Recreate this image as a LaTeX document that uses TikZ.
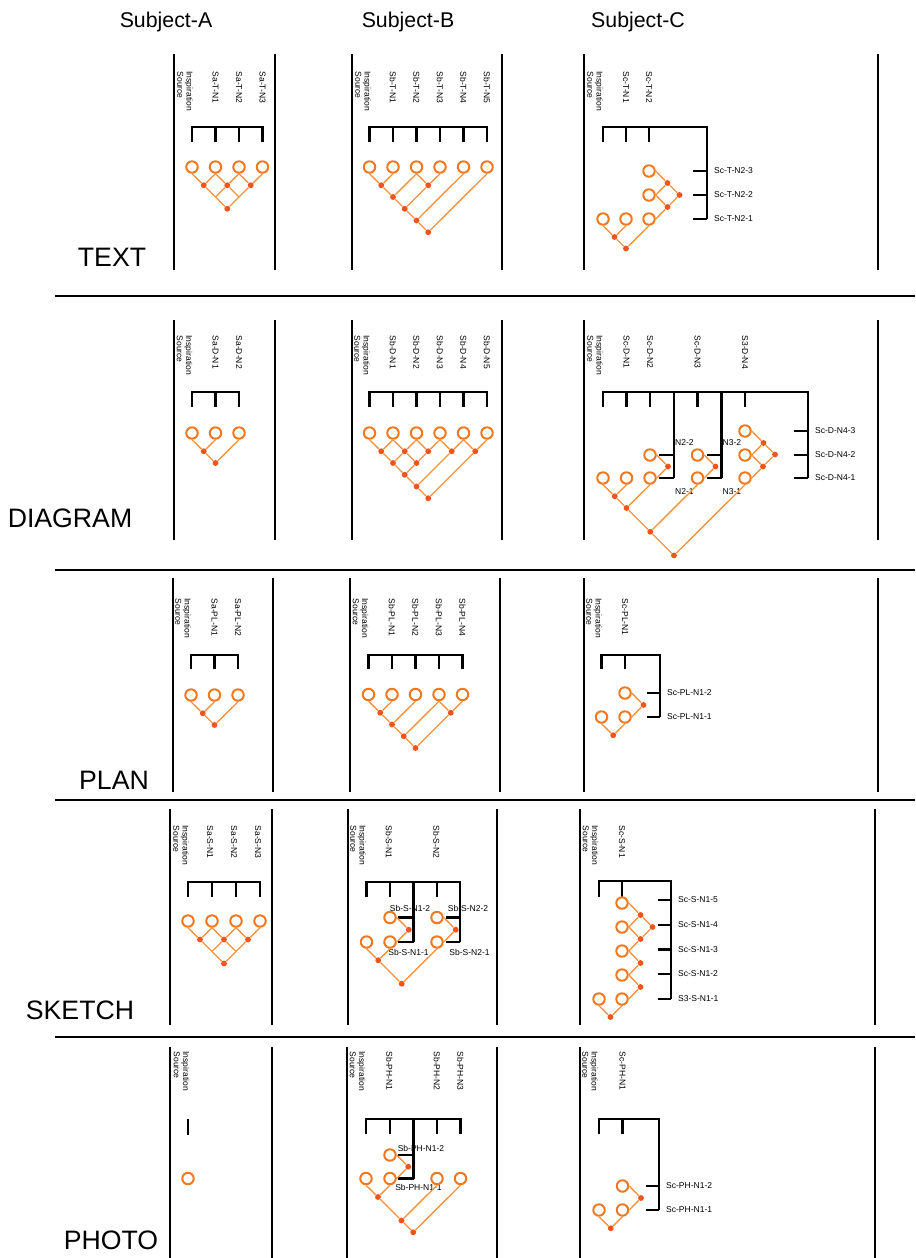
\documentclass[tikz,border=0pt]{standalone}
\usepackage{fontspec}
\setmainfont{Liberation Sans}
\definecolor{ringorange}{RGB}{243,121,32}
\definecolor{twigorange}{RGB}{246,146,62}
\definecolor{dotred}{RGB}{241,84,28}

\begin{document}
\begin{tikzpicture}[
    x=0.75pt, y=-0.75pt,
    ring/.style={circle, draw=ringorange, fill=white, line width=1.5pt, minimum size=8.6pt, inner sep=0pt},
    jdot/.style={circle, fill=dotred, minimum size=4.4pt, inner sep=0pt},
    twig/.style={draw=twigorange, line width=1pt},
    combline/.style={draw, line width=1.7pt},
    sepline/.style={draw, line width=1.5pt},
    lbl/.style={font=\fontsize{6.4}{7}\selectfont, inner sep=1pt},
    vtag/.style={lbl, rotate=-90, anchor=west, align=left},
    rtag/.style={lbl, anchor=west},
    headtext/.style={font=\fontsize{16}{19}\selectfont},
    rowname/.style={font=\fontsize{20}{24}\selectfont}
]
\useasboundingbox (0,0) rectangle (915,1258);

% ---------- Headers and row names ----------
\node[headtext] (hdA) at (166,22) {Subject-A};
\node[headtext] (hdB) at (408,22) {Subject-B};
\node[headtext] (hdC) at (638,22) {Subject-C};

\node[rowname] (rnT) at (112,257) {TEXT};
\node[rowname] (rnD) at (70,518) {DIAGRAM};
\node[rowname] (rnPL) at (114,780) {PLAN};
\node[rowname] (rnS) at (80,1010) {SKETCH};
\node[rowname] (rnPH) at (111,1240) {PHOTO};

% ---------- Grid ----------
\foreach \y in {296,570,800,1037} \draw[sepline] (55,\y) -- (915,\y);
\foreach \x/\ya/\yb in {174/54/270, 275/54/270, 352/54/270, 502/54/270, 584/54/270, 878/54/270,
                        174/320/540, 275/320/540, 352/320/540, 502/320/540, 584/320/540, 878/320/540,
                        173/578/792, 273/578/792, 350/578/792, 500/578/792, 584/578/792, 878/578/792,
                        170/809/1025, 272/809/1025, 348/809/1025, 497/809/1025, 580/809/1025, 875/809/1025,
                        170/1047/1258, 272/1047/1258, 347/1047/1258, 497/1047/1258, 580/1047/1258, 875/1047/1258}
    \draw[sepline] (\x,\ya) -- (\x,\yb);

% ========== TEXT ==========
% Subject-A
\node[vtag] (tAl0) at (185,70) {Inspiration\\Source};
\foreach \x/\t [count=\i] in {215.5/Sa-T-N1, 239/Sa-T-N2, 262.5/Sa-T-N3} \node[vtag] (tAl\i) at (\x,70) {\t};
\draw[combline] (192,142) -- (192,127) -- (262.5,127) -- (262.5,142);
\foreach \x in {215.5,239} \draw[combline] (\x,127) -- (\x,142);
\foreach \x [count=\i from 0] in {192,215.5,239,262.5} \node[ring] (tA\i) at (\x,167) {};
\node[jdot] (tAd01) at (203.75,185.25) {};
\node[jdot] (tAd12) at (227.25,185.25) {};
\node[jdot] (tAd23) at (250.75,185.25) {};
\node[jdot] (tAr) at (227.25,208.75) {};
\coordinate (tAm1) at (215.5,197);
\coordinate (tAm2) at (239,197);
\draw[twig] (tA0.south) -- (tAd01) -- (tAr) -- (tAd23) -- (tA3.south);
\draw[twig] (tA1.south) -- (tAd01);
\draw[twig] (tA1.south) -- (tAd12) -- (tA2.south) -- (tAd23);
\draw[twig] (tAm1) -- (tAd12) -- (tAm2);

% Subject-B
\node[vtag] (tBl0) at (363,70) {Inspiration\\Source};
\foreach \x/\t [count=\i] in {393/Sb-T-N1, 416.5/Sb-T-N2, 440/Sb-T-N3, 463.5/Sb-T-N4, 487/Sb-T-N5} \node[vtag] (tBl\i) at (\x,70) {\t};
\draw[combline] (369.5,142) -- (369.5,127) -- (487,127) -- (487,142);
\foreach \x in {393,416.5,440,463.5} \draw[combline] (\x,127) -- (\x,142);
\foreach \x [count=\i from 0] in {369.5,393,416.5,440,463.5,487} \node[ring] (tB\i) at (\x,167) {};
\node[jdot] (tBd01) at (381.25,185.25) {};
\node[jdot] (tBp1) at (393,197) {};
\node[jdot] (tBd23) at (428.25,185.25) {};
\node[jdot] (tBp2) at (404.75,208.75) {};
\node[jdot] (tBp3) at (416.5,220.5) {};
\node[jdot] (tBp4) at (428.25,232.25) {};
\draw[twig] (tB0.south) -- (tBd01) -- (tBp1) -- (tBp2) -- (tBp3) -- (tBp4) -- (tB5.south);
\draw[twig] (tB1.south) -- (tBd01);
\draw[twig] (tB2.south) -- (tBp1);
\draw[twig] (tB2.south) -- (tBd23) -- (tB3.south);
\draw[twig] (tBd23) -- (tBp2);
\draw[twig] (tB4.south) -- (tBp3);

% Subject-C
\node[vtag] (tCl0) at (595,70) {Inspiration\\Source};
\node[vtag] (tCl1) at (626,70) {Sc-T-N1};
\node[vtag] (tCl2) at (649,70) {Sc-T-N2};
\draw[combline] (603,142) -- (603,127) -- (707,127) -- (707,219);
\foreach \x in {626,649} \draw[combline] (\x,127) -- (\x,142);
\foreach \y/\t in {171/Sc-T-N2-3, 195/Sc-T-N2-2, 219/Sc-T-N2-1} {
    \draw[combline] (693,\y) -- (707,\y);
    \node[rtag] at (712.5,\y) {\t};
}
\node[ring] (tC0) at (603,219) {};
\node[ring] (tC1) at (626,219) {};
\node[ring] (tC2) at (649,219) {};
\node[ring] (tC3) at (649,195) {};
\node[ring] (tC4) at (649,171) {};
\node[jdot] (tCd01) at (614.5,237) {};
\node[jdot] (tCs1) at (667.5,183) {};
\node[jdot] (tCs2) at (667.5,207) {};
\node[jdot] (tCj) at (679.5,195) {};
\node[jdot] (tCr) at (626,248.5) {};
\draw[twig] (tC0.south) -- (tCd01) -- (tCr) -- (tC2.south);
\draw[twig] (tC1.south) -- (tCd01);
\draw[twig] (tC2.east) -- (tCs2) -- (tCj) -- (tCs1) -- (tC4.east);
\draw[twig] (tCs2) -- (tC3.east) -- (tCs1);

% ========== DIAGRAM ==========
% Subject-A
\node[vtag] (dAl0) at (184.5,334) {Inspiration\\Source};
\node[vtag] (dAl1) at (215.5,334) {Sa-D-N1};
\node[vtag] (dAl2) at (239,334) {Sa-D-N2};
\draw[combline] (192,407) -- (192,392) -- (239,392) -- (239,407);
\draw[combline] (215.5,392) -- (215.5,407);
\foreach \x [count=\i from 0] in {192,215.5,239} \node[ring] (dA\i) at (\x,433) {};
\node[jdot] (dAd01) at (203.75,451.25) {};
\node[jdot] (dAr) at (215.5,463) {};
\draw[twig] (dA0.south) -- (dAd01) -- (dAr) -- (dA2.south);
\draw[twig] (dA1.south) -- (dAd01);

% Subject-B
\node[vtag] (dBl0) at (362,334) {Inspiration\\Source};
\foreach \x/\t [count=\i] in {393/Sb-D-N1, 416.5/Sb-D-N2, 440/Sb-D-N3, 463.5/Sb-D-N4, 487/Sb-D-N5} \node[vtag] (dBl\i) at (\x,334) {\t};
\draw[combline] (369.5,407) -- (369.5,392) -- (487,392) -- (487,407);
\foreach \x in {393,416.5,440,463.5} \draw[combline] (\x,392) -- (\x,407);
\foreach \x [count=\i from 0] in {369.5,393,416.5,440,463.5,487} \node[ring] (dB\i) at (\x,433) {};
\foreach \x [count=\i from 0] in {381.25,404.75,428.25,451.75,475.25} \node[jdot] (dBd\i) at (\x,451.25) {};
\node[jdot] (dBe1) at (393,463) {};
\node[jdot] (dBe2) at (416.5,463) {};
\node[jdot] (dBf) at (404.75,474.75) {};
\node[jdot] (dBg) at (416.5,486.5) {};
\node[jdot] (dBh) at (428.25,498.25) {};
\draw[twig] (dB0.south) -- (dBd0) -- (dBe1) -- (dBf) -- (dBg) -- (dBh) -- (dBd4) -- (dB5.south);
\draw[twig] (dB1.south) -- (dBd0);
\draw[twig] (dB1.south) -- (dBd1) -- (dB2.south) -- (dBd2) -- (dB3.south) -- (dBd3) -- (dB4.south) -- (dBd4);
\draw[twig] (dBe1) -- (dBd1) -- (dBe2) -- (dBd2);
\draw[twig] (dBe2) -- (dBf);
\draw[twig] (dBd3) -- (dBg);

% Subject-C
\node[vtag] (dCl0) at (595,334) {Inspiration\\Source};
\foreach \x/\t [count=\i] in {626.5/Sc-D-N1, 650/Sc-D-N2, 697.5/Sc-D-N3, 745/S3-D-N4} \node[vtag] (dCl\i) at (\x,334) {\t};
\draw[combline] (603,407) -- (603,392) -- (808,392) -- (808,478);
\foreach \x in {626.5,650,697.5,745} \draw[combline] (\x,392) -- (\x,407);
\draw[combline] (674,392) -- (674,478);
\draw[combline] (721.5,392) -- (721.5,478);
\foreach \y in {455,478} {
    \draw[combline] (659,\y) -- (674,\y);
    \draw[combline] (706.5,\y) -- (721.5,\y);
}
\node[rtag] (dCn22) at (673.5,443) {N2-2};
\node[rtag] (dCn21) at (673.5,491.5) {N2-1};
\node[rtag] (dCn32) at (721,443) {N3-2};
\node[rtag] (dCn31) at (721,491.5) {N3-1};
\foreach \y/\t in {431/Sc-D-N4-3, 455/Sc-D-N4-2, 478/Sc-D-N4-1} {
    \draw[combline] (794,\y) -- (808,\y);
    \node[rtag] at (813.5,\y) {\t};
}
\node[ring] (dC0) at (603,478) {};
\node[ring] (dC1) at (626.5,478) {};
\node[ring] (dC2) at (650,478) {};
\node[ring] (dC3) at (650,455) {};
\node[ring] (dM1) at (697.5,455) {};
\node[ring] (dM2) at (697.5,478) {};
\node[ring] (dR1) at (745,431) {};
\node[ring] (dR2) at (745,455) {};
\node[ring] (dR3) at (745,478) {};
\node[jdot] (dCd01) at (614.75,496.25) {};
\node[jdot] (dCe1) at (626.5,508) {};
\node[jdot] (dCs1) at (668,466.5) {};
\node[jdot] (dCs2) at (715.5,466.5) {};
\node[jdot] (dCe2) at (650.25,531.75) {};
\node[jdot] (dCr12) at (763.5,443) {};
\node[jdot] (dCr23) at (763,466.5) {};
\node[jdot] (dCrj) at (775,454.5) {};
\node[jdot] (dCroot) at (674,555.5) {};
\draw[twig] (dC0.south) -- (dCd01) -- (dCe1) -- (dCe2) -- (dCroot) -- (dR3.south);
\draw[twig] (dC1.south) -- (dCd01);
\draw[twig] (dCe1) -- (dC2.south);
\draw[twig] (dC2.east) -- (dCs1) -- (dC3.east);
\draw[twig] (dCe2) -- (dM2.south);
\draw[twig] (dM2.east) -- (dCs2) -- (dM1.east);
\draw[twig] (dR3.east) -- (dCr23) -- (dR2.east) -- (dCr12) -- (dR1.east);
\draw[twig] (dCr12) -- (dCrj) -- (dCr23);

% ========== PLAN ==========
% Subject-A
\node[vtag] (pAl0) at (183,597) {Inspiration\\Source};
\node[vtag] (pAl1) at (214.5,597) {Sa-PL-N1};
\node[vtag] (pAl2) at (238,597) {Sa-PL-N2};
\draw[combline] (191,669) -- (191,655) -- (238,655) -- (238,669);
\draw[combline] (214.5,655) -- (214.5,669);
\foreach \x [count=\i from 0] in {191,214.5,238} \node[ring] (pA\i) at (\x,695) {};
\node[jdot] (pAd01) at (202.75,713.25) {};
\node[jdot] (pAr) at (214.5,725) {};
\draw[twig] (pA0.south) -- (pAd01) -- (pAr) -- (pA2.south);
\draw[twig] (pA1.south) -- (pAd01);

% Subject-B
\node[vtag] (pBl0) at (360.5,597) {Inspiration\\Source};
\foreach \x/\t [count=\i] in {392/Sb-PL-N1, 415.5/Sb-PL-N2, 439/Sb-PL-N3, 462.5/Sb-PL-N4} \node[vtag] (pBl\i) at (\x,597) {\t};
\draw[combline] (368.5,669) -- (368.5,655) -- (462.5,655) -- (462.5,669);
\foreach \x in {392,415.5,439} \draw[combline] (\x,655) -- (\x,669);
\foreach \x [count=\i from 0] in {368.5,392,415.5,439,462.5} \node[ring] (pB\i) at (\x,694.5) {};
\node[jdot] (pBd01) at (380.25,712.75) {};
\node[jdot] (pBe) at (392,724.5) {};
\node[jdot] (pBf) at (403.75,736.25) {};
\node[jdot] (pBd34) at (450.75,712.75) {};
\node[jdot] (pBg) at (415.5,748) {};
\draw[twig] (pB0.south) -- (pBd01) -- (pBe) -- (pBf) -- (pBg) -- (pBd34) -- (pB4.south);
\draw[twig] (pB1.south) -- (pBd01);
\draw[twig] (pB2.south) -- (pBe);
\draw[twig] (pBf) -- (pB3.south) -- (pBd34);

% Subject-C
\node[vtag] (pCl0) at (594,597) {Inspiration\\Source};
\node[vtag] (pCl1) at (625,597) {Sc-PL-N1};
\draw[combline] (601.5,669) -- (601.5,655) -- (660,655) -- (660,717);
\draw[combline] (625,655) -- (625,669);
\foreach \y/\t in {693/Sc-PL-N1-2, 717/Sc-PL-N1-1} {
    \draw[combline] (647,\y) -- (660,\y);
    \node[rtag] at (665.5,\y) {\t};
}
\node[ring] (pC0) at (601.5,717) {};
\node[ring] (pC1) at (625,717) {};
\node[ring] (pC2) at (625,693) {};
\node[jdot] (pCs) at (643.5,705) {};
\node[jdot] (pCr) at (613.25,735.25) {};
\draw[twig] (pC0.south) -- (pCr) -- (pC1.south);
\draw[twig] (pC1.east) -- (pCs) -- (pC2.east);

% ========== SKETCH ==========
% Subject-A
\node[vtag] (sAl0) at (181,824) {Inspiration\\Source};
\foreach \x/\t [count=\i] in {210/Sa-S-N1, 234/Sa-S-N2, 258/Sa-S-N3} \node[vtag] (sAl\i) at (\x,824) {\t};
\draw[combline] (188,897) -- (188,882) -- (260,882) -- (260,897);
\foreach \x in {212,236} \draw[combline] (\x,882) -- (\x,897);
\foreach \x [count=\i from 0] in {188,212,236,260} \node[ring] (sA\i) at (\x,921) {};
\node[jdot] (sAd01) at (200,939.5) {};
\node[jdot] (sAd12) at (224,939.5) {};
\node[jdot] (sAd23) at (248,939.5) {};
\node[jdot] (sAr) at (224,963.5) {};
\coordinate (sAm1) at (212,951.5);
\coordinate (sAm2) at (236,951.5);
\draw[twig] (sA0.south) -- (sAd01) -- (sAr) -- (sAd23) -- (sA3.south);
\draw[twig] (sA1.south) -- (sAd01);
\draw[twig] (sA1.south) -- (sAd12) -- (sA2.south) -- (sAd23);
\draw[twig] (sAm1) -- (sAd12) -- (sAm2);

% Subject-B
\node[vtag] (sBl0) at (358,824) {Inspiration\\Source};
\node[vtag] (sBl1) at (389,824) {Sb-S-N1};
\node[vtag] (sBl2) at (436.5,824) {Sb-S-N2};
\draw[combline] (366.5,897) -- (366.5,882) -- (460,882) -- (460,942);
\foreach \x in {390,437} \draw[combline] (\x,882) -- (\x,897);
\draw[combline] (413.5,882) -- (413.5,942);
\foreach \y in {917.5,942} {
    \draw[combline] (397.5,\y) -- (413.5,\y);
    \draw[combline] (446,\y) -- (460,\y);
}
\node[lbl] (sBn12) at (410,908) {Sb-S-N1-2};
\node[lbl] (sBn11) at (408.5,952.5) {Sb-S-N1-1};
\node[lbl] (sBn22) at (468,908) {Sb-S-N2-2};
\node[lbl] (sBn21) at (469.5,952.5) {Sb-S-N2-1};
\node[ring] (sB0) at (366.5,942) {};
\node[ring] (sB1) at (390,942) {};
\node[ring] (sB2) at (390,917.5) {};
\node[ring] (sB3) at (437,917.5) {};
\node[ring] (sB4) at (437,942) {};
\node[jdot] (sBs1) at (408.75,929.75) {};
\node[jdot] (sBs2) at (455.75,929.75) {};
\node[jdot] (sBe) at (378.25,960.25) {};
\node[jdot] (sBr) at (401.75,983.75) {};
\draw[twig] (sB0.south) -- (sBe) -- (sB1.south);
\draw[twig] (sB1.east) -- (sBs1) -- (sB2.east);
\draw[twig] (sBe) -- (sBr) -- (sB4.south);
\draw[twig] (sB4.east) -- (sBs2) -- (sB3.east);

% Subject-C
\node[vtag] (sCl0) at (590.5,824) {Inspiration\\Source};
\node[vtag] (sCl1) at (622,824) {Sc-S-N1};
\draw[combline] (599,897) -- (599,881) -- (671,881) -- (671,999);
\draw[combline] (622,881) -- (622,896.5);
\foreach \y/\t in {900/Sc-S-N1-5, 925/Sc-S-N1-4, 949.5/Sc-S-N1-3, 974/Sc-S-N1-2, 999/S3-S-N1-1} {
    \draw[combline] (657.5,\y) -- (671,\y);
    \node[rtag] at (676.5,\y) {\t};
}
\node[ring] (sC0) at (599,999) {};
\foreach \y [count=\i] in {903,927,951,975,999} \node[ring] (sC\i) at (622,\y) {};
\node[jdot] (sCD1) at (640.5,915) {};
\node[jdot] (sCD2) at (640.5,939) {};
\node[jdot] (sCB) at (652.5,927) {};
\node[jdot] (sCD3) at (640.5,963) {};
\node[jdot] (sCD4) at (640.5,987) {};
\node[jdot] (sCr) at (610.5,1017) {};
\draw[twig] (sC1.east) -- (sCD1) -- (sC2.east) -- (sCD2) -- (sC3.east) -- (sCD3) -- (sC4.east) -- (sCD4) -- (sC5.east);
\draw[twig] (sCD1) -- (sCB) -- (sCD2);
\draw[twig] (sC0.south) -- (sCr) -- (sC5.south);

% ========== PHOTO ==========
% Subject-A
\node[vtag] (hAl0) at (181.5,1050) {Inspiration\\Source};
\draw[combline] (188,1119) -- (188,1135);
\node[ring] (hA0) at (188,1178.5) {};

% Subject-B
\node[vtag] (hBl0) at (357.5,1050) {Inspiration\\Source};
\foreach \x/\t [count=\i] in {389.5/Sb-PH-N1, 437/Sb-PH-N2, 460.5/Sb-PH-N3} \node[vtag] (hBl\i) at (\x,1050) {\t};
\draw[combline] (366,1134) -- (366,1119) -- (460.5,1119) -- (460.5,1134);
\foreach \x in {390,437} \draw[combline] (\x,1119) -- (\x,1134);
\draw[combline] (413.5,1119) -- (413.5,1178.5);
\foreach \y in {1155,1178.5} \draw[combline] (397.5,\y) -- (413.5,\y);
\node[lbl] (hBn12) at (421,1148) {Sb-PH-N1-2};
\node[lbl] (hBn11) at (418.5,1187) {Sb-PH-N1-1};
\node[ring] (hB0) at (366,1178.5) {};
\node[ring] (hB1) at (390,1178.5) {};
\node[ring] (hB2) at (390,1155) {};
\node[ring] (hB3) at (437,1178.5) {};
\node[ring] (hB4) at (460.5,1178.5) {};
\node[jdot] (hBs) at (408.25,1166.75) {};
\node[jdot] (hBe1) at (378,1197) {};
\node[jdot] (hBe2) at (401.5,1220.5) {};
\node[jdot] (hBe3) at (413.25,1232.25) {};
\draw[twig] (hB0.south) -- (hBe1) -- (hB1.south);
\draw[twig] (hB1.east) -- (hBs) -- (hB2.east);
\draw[twig] (hBe1) -- (hBe2) -- (hBe3) -- (hB4.south);
\draw[twig] (hB3.south) -- (hBe2);

% Subject-C
\node[vtag] (hCl0) at (590,1050) {Inspiration\\Source};
\node[vtag] (hCl1) at (622.5,1050) {Sc-PH-N1};
\draw[combline] (599,1134) -- (599,1119) -- (659,1119) -- (659,1210);
\draw[combline] (622.5,1119) -- (622.5,1134);
\foreach \y/\t in {1186/Sc-PH-N1-2, 1210/Sc-PH-N1-1} {
    \draw[combline] (646,\y) -- (659,\y);
    \node[rtag] at (664.5,\y) {\t};
}
\node[ring] (hC0) at (599,1210) {};
\node[ring] (hC1) at (622.5,1210) {};
\node[ring] (hC2) at (622.5,1186) {};
\node[jdot] (hCs) at (641,1198) {};
\node[jdot] (hCr) at (610.75,1228.25) {};
\draw[twig] (hC0.south) -- (hCr) -- (hC1.south);
\draw[twig] (hC1.east) -- (hCs) -- (hC2.east);

\end{tikzpicture}
\end{document}
